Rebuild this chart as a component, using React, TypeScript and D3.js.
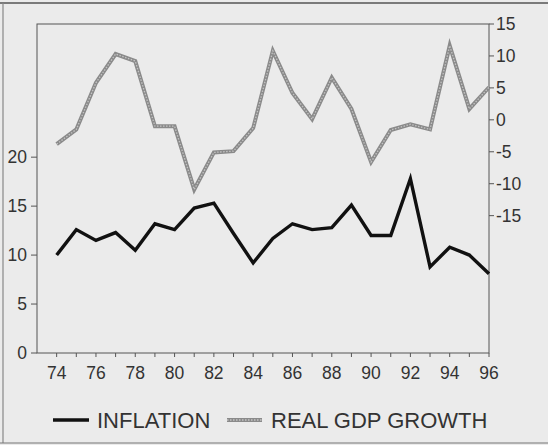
import React from "react";
import * as d3 from "d3";

const years = [74, 75, 76, 77, 78, 79, 80, 81, 82, 83, 84, 85, 86, 87, 88, 89, 90, 91, 92, 93, 94, 95, 96];
const inflation = [10.0, 12.6, 11.5, 12.3, 10.5, 13.2, 12.6, 14.8, 15.3, 12.2, 9.2, 11.7, 13.2, 12.6, 12.8, 15.1, 12.0, 12.0, 17.8, 8.8, 10.8, 10.0, 8.1];
const gdpGrowth = [-3.8, -1.5, 5.8, 10.3, 9.2, -1.0, -1.0, -10.9, -5.1, -4.9, -1.3, 10.8, 4.2, 0.1, 6.6, 1.7, -6.6, -1.6, -0.7, -1.5, 11.6, 1.7, 5.1];
const xTickLabels = [74, 76, 78, 80, 82, 84, 86, 88, 90, 92, 94, 96];
const leftTicks = [0, 5, 10, 15, 20];
const rightTicks = [15, 10, 5, 0, -5, -10, -15];
const legendLabels = ["INFLATION", "REAL GDP GROWTH"];

const W = 548;
const H = 445;
const L = 37, R = 489, T = 24, B = 353;

export default function App() {
  const x = d3.scaleLinear().domain([73, 96]).range([L, R]);
  const yL = d3.scaleLinear().domain([0, 33.6]).range([B, T]);
  const yR = d3.scaleLinear().domain([-36.5, 15]).range([B, T]);

  const infLine = d3.line<number>().x((_, i) => x(years[i])).y((d) => yL(d))(inflation) || "";
  const gdpLine = d3.line<number>().x((_, i) => x(years[i])).y((d) => yR(d))(gdpGrowth) || "";

  const font = "'Liberation Sans', Arial, Helvetica, sans-serif";
  const axisColor = "#555";
  const textColor = "#333";

  return (
    <svg width={W} height={H} style={{ position: "absolute", left: 0, top: 0, background: "#ebebeb" }} fontFamily={font}>
      <rect x={0} y={0} width={W} height={H} fill="#ebebeb" />
      {/* outer frame of the scanned figure */}
      <line x1={0} x2={W} y1={3} y2={3} stroke="#555" strokeWidth={1.5} />
      <line x1={3} x2={3} y1={3} y2={443} stroke="#888" strokeWidth={1.2} />
      <line x1={0} x2={W} y1={443} y2={443} stroke="#777" strokeWidth={1.2} />

      {/* plot box */}
      <rect x={L} y={T} width={R - L} height={B - T} fill="none" stroke={axisColor} strokeWidth={1} />

      {/* x ticks */}
      {years.map((yr) => (
        <line key={"xt" + yr} x1={x(yr)} x2={x(yr)} y1={B} y2={B + 4} stroke={axisColor} strokeWidth={1} />
      ))}
      {xTickLabels.map((yr) => (
        <text key={"xl" + yr} x={x(yr)} y={373} textAnchor="middle" dominantBaseline="central" fontSize={17.5} fill={textColor}>
          {yr}
        </text>
      ))}

      {/* left axis */}
      {leftTicks.map((v) => (
        <g key={"lt" + v}>
          <line x1={L - 6} x2={L} y1={yL(v)} y2={yL(v)} stroke={axisColor} strokeWidth={1} />
          <text x={L - 10} y={yL(v)} textAnchor="end" dominantBaseline="central" fontSize={17.5} fill={textColor}>
            {v}
          </text>
        </g>
      ))}

      {/* right axis */}
      {rightTicks.map((v) => (
        <g key={"rt" + v}>
          <line x1={R} x2={R + 5} y1={yR(v)} y2={yR(v)} stroke={axisColor} strokeWidth={1} />
          <text x={R + 7} y={yR(v)} textAnchor="start" dominantBaseline="central" fontSize={17.5} fill={textColor}>
            {v}
          </text>
        </g>
      ))}

      {/* GDP growth line (textured gray) */}
      <path d={gdpLine} fill="none" stroke="#8a8a8a" strokeWidth={4} strokeLinejoin="miter" />
      <path d={gdpLine} fill="none" stroke="#c4c4c4" strokeWidth={1.3} strokeDasharray="1.5 1.5" strokeLinejoin="miter" />

      {/* inflation line */}
      <path d={infLine} fill="none" stroke="#111" strokeWidth={3.4} strokeLinejoin="miter" />

      {/* legend */}
      <line x1={53} x2={89} y1={420} y2={420} stroke="#111" strokeWidth={3.4} />
      <text x={97} y={420} dominantBaseline="central" fontSize={22} fill={textColor}>
        {legendLabels[0]}
      </text>
      <line x1={227} x2={262} y1={420} y2={420} stroke="#8a8a8a" strokeWidth={4} />
      <line x1={227} x2={262} y1={420} y2={420} stroke="#c4c4c4" strokeWidth={1.3} strokeDasharray="1.5 1.5" />
      <text x={271} y={420} dominantBaseline="central" fontSize={22} fill={textColor}>
        {legendLabels[1]}
      </text>
    </svg>
  );
}
